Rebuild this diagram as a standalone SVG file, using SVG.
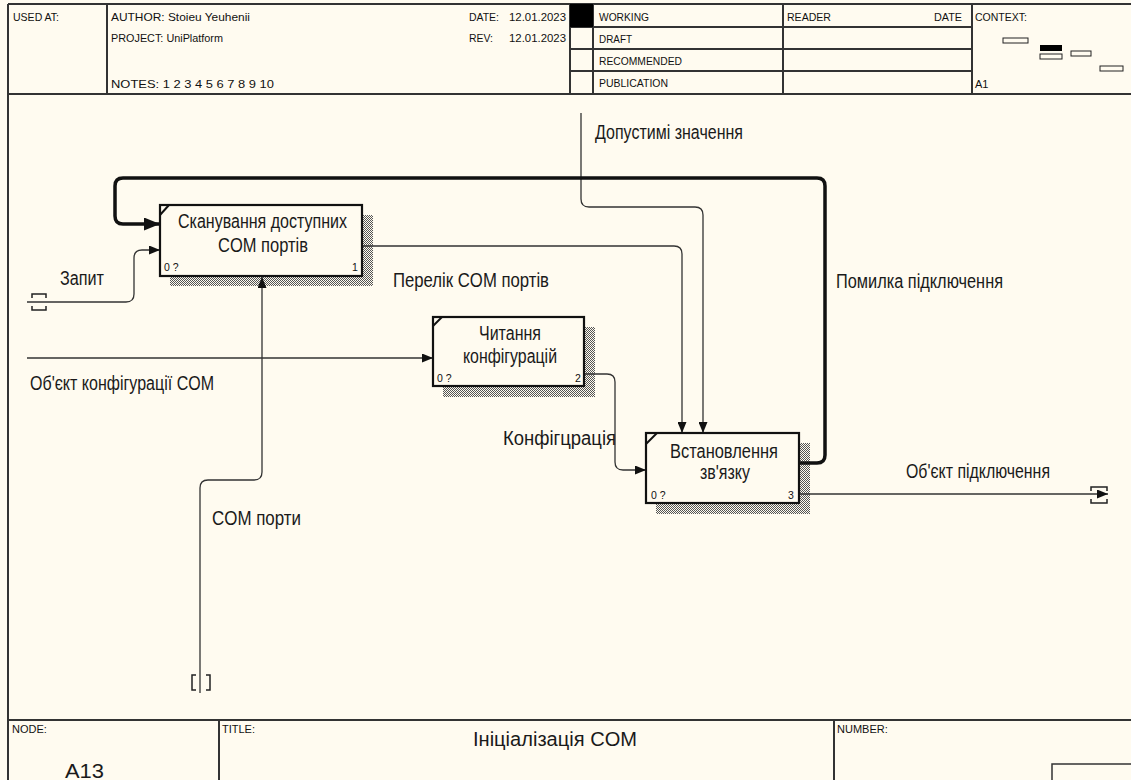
<svg xmlns="http://www.w3.org/2000/svg" width="1131" height="780" viewBox="0 0 1131 780">
  <style>
    .frame { fill: none; stroke: #333; stroke-width: 2; }
    .hdr { font-family: "Liberation Sans", Arial, sans-serif; font-size: 11px; fill: #111; }
    .lbl { font-family: "Liberation Sans", Arial, sans-serif; font-size: 19.5px; fill: #1a1a1a; }
    .box-txt { font-family: "Liberation Sans", Arial, sans-serif; font-size: 19.5px; fill: #1a1a1a; }
    .num { font-family: "Liberation Sans", Arial, sans-serif; font-size: 10.5px; fill: #111; }
    .box { fill: #fffbf0; stroke: #111; stroke-width: 2.2; }
    .tick { stroke: #111; stroke-width: 2; }
    .shadow { fill: url(#hatch); }
    .arc { fill: none; stroke: #333; stroke-width: 1.3; }
    .arc-bold { fill: none; stroke: #111; stroke-width: 3.5; }
    .tunnel { fill: none; stroke: #222; stroke-width: 1.5; }
  </style>
  <defs>
    <pattern id="hatch" width="2" height="2" patternUnits="userSpaceOnUse">
      <rect x="0" y="0" width="1" height="1" fill="#555"/>
      <rect x="1" y="1" width="1" height="1" fill="#555"/>
    </pattern>
    <marker id="arr" markerWidth="11" markerHeight="9" refX="11" refY="4.5" orient="auto" markerUnits="userSpaceOnUse">
      <path d="M0,0 L11,4.5 L0,9 Z" fill="#111"/>
    </marker>
    <marker id="arr-bold" markerWidth="16" markerHeight="13" refX="16" refY="6.5" orient="auto" markerUnits="userSpaceOnUse">
      <path d="M0,0 L16,6.5 L0,13 Z" fill="#111"/>
    </marker>
  </defs>

  <rect x="0" y="0" width="1131" height="780" fill="#fffbf0"/>

  <!-- header form -->
  <g id="header">
    <line class="frame" x1="8" y1="4" x2="1131" y2="4"/>
    <line class="frame" x1="8" y1="94" x2="1131" y2="94"/>
    <line class="frame" x1="8" y1="4" x2="8" y2="780"/>
    <line class="frame" x1="107" y1="4" x2="107" y2="94"/>
    <line class="frame" x1="570" y1="4" x2="570" y2="94"/>
    <line class="frame" x1="593" y1="4" x2="593" y2="94"/>
    <line class="frame" x1="783" y1="4" x2="783" y2="94"/>
    <line class="frame" x1="972" y1="4" x2="972" y2="94"/>
    <line class="frame" x1="570" y1="27" x2="972" y2="27"/>
    <line class="frame" x1="570" y1="49" x2="972" y2="49"/>
    <line class="frame" x1="570" y1="71" x2="972" y2="71"/>
    <rect x="570" y="4" width="23" height="23" fill="#000"/>

    <text class="hdr" x="13" y="21" textLength="46" lengthAdjust="spacingAndGlyphs">USED AT:</text>
    <text class="hdr" x="111" y="21" textLength="139" lengthAdjust="spacingAndGlyphs">AUTHOR:  Stoieu Yeuhenii</text>
    <text class="hdr" x="111" y="42" textLength="112" lengthAdjust="spacingAndGlyphs">PROJECT:  UniPlatform</text>
    <text class="hdr" x="111" y="88" textLength="163" lengthAdjust="spacingAndGlyphs">NOTES:  1  2  3  4  5  6  7  8  9  10</text>
    <text class="hdr" x="469" y="21" textLength="30" lengthAdjust="spacingAndGlyphs">DATE:</text>
    <text class="hdr" x="509" y="21" textLength="57" lengthAdjust="spacingAndGlyphs">12.01.2023</text>
    <text class="hdr" x="469" y="42" textLength="24" lengthAdjust="spacingAndGlyphs">REV:</text>
    <text class="hdr" x="509" y="42" textLength="57" lengthAdjust="spacingAndGlyphs">12.01.2023</text>
    <text class="hdr" x="599" y="21" textLength="50" lengthAdjust="spacingAndGlyphs">WORKING</text>
    <text class="hdr" x="599" y="43" textLength="33" lengthAdjust="spacingAndGlyphs">DRAFT</text>
    <text class="hdr" x="599" y="65" textLength="83" lengthAdjust="spacingAndGlyphs">RECOMMENDED</text>
    <text class="hdr" x="599" y="87" textLength="69" lengthAdjust="spacingAndGlyphs">PUBLICATION</text>
    <text class="hdr" x="787" y="21" textLength="44" lengthAdjust="spacingAndGlyphs">READER</text>
    <text class="hdr" x="934" y="21" textLength="28" lengthAdjust="spacingAndGlyphs">DATE</text>
    <text class="hdr" x="975" y="21" textLength="52" lengthAdjust="spacingAndGlyphs">CONTEXT:</text>
    <text class="hdr" x="975" y="88">A1</text>

    <!-- context thumbnail -->
    <rect x="1003" y="38" width="25" height="5" fill="none" stroke="#222" stroke-width="1"/>
    <rect x="1040" y="45" width="22" height="6" fill="#000"/>
    <rect x="1040" y="54" width="22" height="5" fill="none" stroke="#222" stroke-width="1"/>
    <rect x="1071" y="51" width="20" height="5" fill="none" stroke="#222" stroke-width="1"/>
    <rect x="1100" y="66" width="23" height="5" fill="none" stroke="#222" stroke-width="1"/>
  </g>

  <!-- footer form -->
  <g id="footer">
    <line class="frame" x1="8" y1="720" x2="1131" y2="720"/>
    <line class="frame" x1="219" y1="720" x2="219" y2="780"/>
    <line class="frame" x1="834" y1="720" x2="834" y2="780"/>
    <rect x="1052" y="764" width="90" height="30" fill="none" stroke="#333" stroke-width="1.5"/>
    <text class="hdr" x="12" y="733" font-size="10">NODE:</text>
    <text class="hdr" x="222" y="733" font-size="10">TITLE:</text>
    <text class="hdr" x="837" y="733" font-size="10">NUMBER:</text>
    <text class="lbl" x="65" y="778" font-size="23" textLength="39" lengthAdjust="spacingAndGlyphs">A13</text>
    <text class="lbl" x="473" y="746" font-size="23" textLength="164" lengthAdjust="spacingAndGlyphs">Ініціалізація COM</text>
  </g>

  <!-- box shadows -->
  <g id="shadows">
    <rect class="shadow" x="170" y="215" width="203" height="71"/>
    <rect class="shadow" x="443" y="327" width="152" height="70"/>
    <rect class="shadow" x="656" y="443" width="154" height="71"/>
  </g>

  <!-- connectors -->
  <g id="connectors">
    <path class="arc" d="M27,302 H126 Q134,302 134,294 V258 Q134,250 142,250 H160" marker-end="url(#arr)"/>
    <path class="arc" d="M27,358 H433" marker-end="url(#arr)"/>
    <path class="arc" d="M200,693 V488 Q200,480 208,480 H254 Q262,480 262,472 V277" marker-end="url(#arr)"/>
    <path class="arc" d="M362,246 H674 Q682,246 682,254 V433" marker-end="url(#arr)"/>
    <path class="arc" d="M581,113 V199 Q581,207 589,207 H695 Q703,207 703,215 V433" marker-end="url(#arr)"/>
    <path class="arc" d="M584,374 H607 Q615,374 615,382 V462 Q615,470 623,470 H646" marker-end="url(#arr)"/>
    <path class="arc" d="M799,494 H1108" marker-end="url(#arr)"/>
    <path class="arc-bold" d="M799,463 H817 Q825,463 825,455 V186 Q825,178 817,178 H123 Q115,178 115,186 V216 Q115,224 123,224 H160" marker-end="url(#arr-bold)"/>

    <!-- tunnels -->
    <path class="tunnel" d="M32,298 V294 H46 V298 M32,306 V310 H46 V306"/>
    <path class="tunnel" d="M1091,491 V487 H1107 V491 M1091,499 V503 H1107 V499"/>
    <path class="tunnel" d="M196,675 H192 V690 H196 M206,675 H210 V690 H206"/>

    <text class="lbl" x="60" y="285" textLength="44" lengthAdjust="spacingAndGlyphs">Запит</text>
    <text class="lbl" x="30" y="390" textLength="184" lengthAdjust="spacingAndGlyphs">Об'єкт конфігурації COM</text>
    <text class="lbl" x="393" y="287" textLength="156" lengthAdjust="spacingAndGlyphs">Перелік COM портів</text>
    <text class="lbl" x="595" y="139" textLength="148" lengthAdjust="spacingAndGlyphs">Допустимі значення</text>
    <text class="lbl" x="836" y="288" textLength="167" lengthAdjust="spacingAndGlyphs">Помилка підключення</text>
    <text class="lbl" x="503" y="445" textLength="113" lengthAdjust="spacingAndGlyphs">Конфігцрація</text>
    <text class="lbl" x="906" y="478" textLength="144" lengthAdjust="spacingAndGlyphs">Об'єкт підключення</text>
    <text class="lbl" x="212" y="525" textLength="89" lengthAdjust="spacingAndGlyphs">COM порти</text>
  </g>

  <g id="box1">
    <rect class="box" x="160" y="205" width="202" height="71"/>
    <line class="tick" x1="160" y1="215" x2="169" y2="205"/>
    <text class="box-txt" x="178" y="228" textLength="169" lengthAdjust="spacingAndGlyphs">Сканування доступних</text>
    <text class="box-txt" x="218" y="252" textLength="90" lengthAdjust="spacingAndGlyphs">COM портів</text>
    <text class="num" x="164" y="271">0 ?</text>
    <text class="num" x="352" y="271">1</text>
  </g>

  <g id="box2">
    <rect class="box" x="433" y="317" width="151" height="69"/>
    <line class="tick" x1="433" y1="326" x2="442" y2="317"/>
    <text class="box-txt" x="479" y="340" textLength="62" lengthAdjust="spacingAndGlyphs">Читання</text>
    <text class="box-txt" x="463" y="363" textLength="94" lengthAdjust="spacingAndGlyphs">конфігурацій</text>
    <text class="num" x="437" y="382">0 ?</text>
    <text class="num" x="575" y="382">2</text>
  </g>

  <g id="box3">
    <rect class="box" x="646" y="433" width="153" height="70"/>
    <line class="tick" x1="646" y1="444" x2="657" y2="433"/>
    <text class="box-txt" x="670" y="458" textLength="108" lengthAdjust="spacingAndGlyphs">Встановлення</text>
    <text class="box-txt" x="700" y="479" textLength="50" lengthAdjust="spacingAndGlyphs">зв'язку</text>
    <text class="num" x="651" y="499">0 ?</text>
    <text class="num" x="788" y="499">3</text>
  </g>
</svg>
